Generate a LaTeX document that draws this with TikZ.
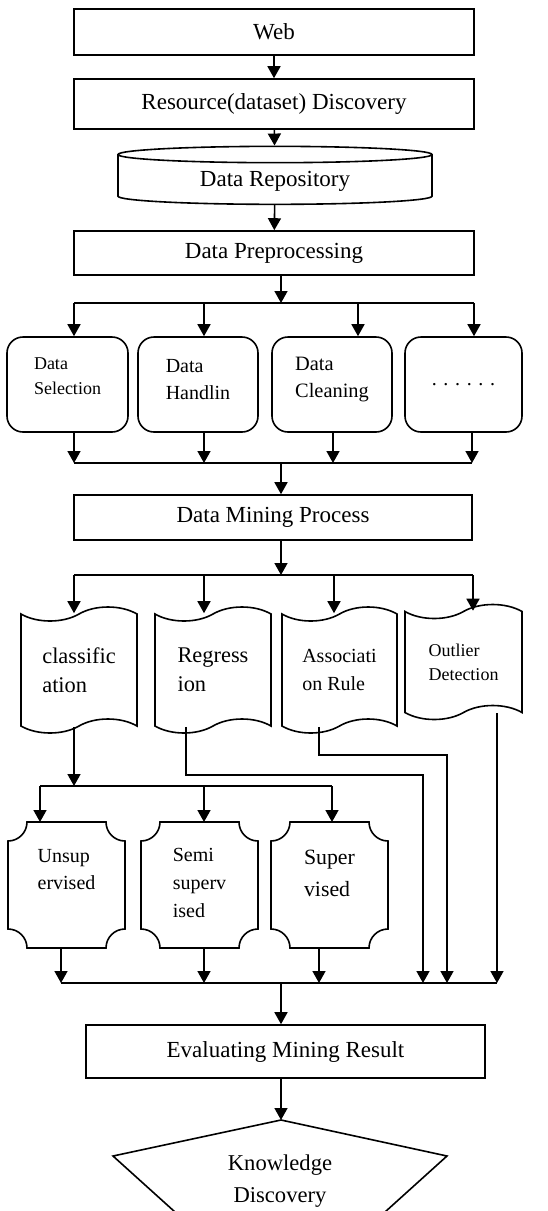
\documentclass[tikz,border=0pt]{standalone}
\usepackage{fontspec}
\setmainfont{Liberation Serif}
\usetikzlibrary{shapes.geometric,shapes.symbols,arrows.meta,calc}

\tikzset{
  block/.style={shape=rectangle, draw},
  roundbox/.style={shape=rectangle, rounded corners=8pt, draw, minimum height=47.5pt, align=left},
  wavebox/.style={shape=tape, draw, tape bend height=7pt, minimum height=63pt, align=left},
  notchbox/.style={shape=rectangle, minimum width=58.5pt, minimum height=63pt, align=left, outer sep=0pt},
}

\begin{document}
\begin{tikzpicture}[x=0.5pt,y=0.5pt,line width=0.8pt,>={Triangle[width=6.5pt,length=6pt]},
  font=\fontsize{11.5}{14}\selectfont]
\useasboundingbox (0,0) rectangle (547,-1211);

% source chain
\path (274,-32) node (web) [block, minimum width=200pt, minimum height=23pt] {Web};
\path (274,-104) node (res) [block, minimum width=200pt, minimum height=25pt] {Resource(dataset) Discovery};
\path (275,-181) node (repo) [shape=cylinder, shape border rotate=90, aspect=0.1, draw, minimum width=157pt, minimum height=29pt] {Data Repository};
\path (274,-253) node (pre) [block, minimum width=200pt, minimum height=22pt] {Data Preprocessing};

\draw [->] (web) to (res);
\draw [->] (res) to (repo);
\draw [->] (repo) to (pre);

% preprocessing steps
\coordinate (split1) at (281,-303);
\coordinate (a1) at (74,-303);
\coordinate (a2) at (204,-303);
\coordinate (a3) at (358,-303);
\coordinate (a4) at (474,-303);
\path (67.5,-384.5) node (sel) [roundbox, minimum width=60.5pt, text depth=8pt, font=\fontsize{9}{12.5}\selectfont] {Data\\Selection};
\path (198,-384.5) node (hand) [roundbox, minimum width=60pt, text depth=5pt, font=\fontsize{10}{13.5}\selectfont] {Data\\Handlin};
\path (332,-384.5) node (clean) [roundbox, minimum width=60pt, text depth=7pt, font=\fontsize{10.2}{13.5}\selectfont] {Data\\Cleaning};
\path (463.5,-384.5) node (dots) [roundbox, minimum width=58.5pt, font=\fontsize{10}{12}\selectfont] {. . . . . .};

\draw [->] (pre.south -| split1) -- (split1);
\draw (a1) -- (a4);
\draw [->] (a1) -- (a1 |- sel.north);
\draw [->] (a2) -- (a2 |- hand.north);
\draw [->] (a3) -- (a3 |- clean.north);
\draw [->] (a4) -- (a4 |- dots.north);

\coordinate (merge1) at (281,-463);
\coordinate (b1) at (74,-463);
\coordinate (b2) at (204,-463);
\coordinate (b3) at (333,-463);
\coordinate (b4) at (472,-463);
\draw [->] (b1 |- sel.south) -- (b1);
\draw [->] (b2 |- hand.south) -- (b2);
\draw [->] (b3 |- clean.south) -- (b3);
\draw [->] (b4 |- dots.south) -- (b4);
\draw (b1) -- (b4);

\path (273,-517.5) node (mine) [block, minimum width=199pt, minimum height=22.5pt] {Data Mining Process};
\draw [->] (merge1) -- (merge1 |- mine.north);

% mining tasks
\coordinate (split2) at (281,-575);
\coordinate (c1) at (74,-575);
\coordinate (c2) at (204,-575);
\coordinate (c3) at (334,-575);
\coordinate (c4) at (473,-575);
\path (79,-670) node (cls) [wavebox, minimum width=58pt, font=\fontsize{11.2}{14.5}\selectfont] {classific\\ation};
\path (213,-670) node (reg) [wavebox, minimum width=58pt, font=\fontsize{11.2}{14.5}\selectfont] {Regress\\ion};
\path (339.5,-670) node (assoc) [wavebox, minimum width=57.5pt, font=\fontsize{10}{14}\selectfont] {Associati\\on Rule};
\path (463.5,-662) node (outl) [wavebox, minimum width=58.5pt, minimum height=57.5pt, font=\fontsize{9}{12}\selectfont] {Outlier\\Detection};

\draw [->] (mine.south -| split2) -- (split2);
\draw (c1) -- (c4);
\draw [->] (c1) -- (c1 |- cls.north);
\draw [->] (c2) -- (c2 |- reg.north);
\draw [->] (c3) -- (c3 |- assoc.north);
\draw [->] (c4) -- (c4 |- outl.north);

% learning types
\coordinate (split3) at (74,-786);
\coordinate (d1) at (40,-786);
\coordinate (d2) at (204,-786);
\coordinate (d3) at (332,-786);
\path (66.5,-885) node (unsup) [notchbox, text depth=16pt, font=\fontsize{10}{13.5}\selectfont] {Unsup\\ervised};
\path (199.5,-885) node (semi) [notchbox, text depth=2.5pt, font=\fontsize{10}{14}\selectfont] {Semi\\superv\\ised};
\path (329.5,-885) node (sup) [notchbox, text depth=12pt, font=\fontsize{10.9}{16}\selectfont] {Super\\vised};
\foreach \n in {unsup,semi,sup}
  \draw ([xshift=9.5pt]\n.north west) -- ([xshift=-9.5pt]\n.north east)
    arc[start angle=180,end angle=270,radius=9.5pt] -- ([yshift=9.5pt]\n.south east)
    arc[start angle=90,end angle=180,radius=9.5pt] -- ([xshift=9.5pt]\n.south west)
    arc[start angle=0,end angle=90,radius=9.5pt] -- ([yshift=-9.5pt]\n.north west)
    arc[start angle=270,end angle=360,radius=9.5pt] -- cycle;

\draw [->] (split3 |- cls.south) -- (split3);
\draw (d1) -- (d3);
\draw [->] (d1) -- (d1 |- unsup.north);
\draw [->] (d2) -- (d2 |- semi.north);
\draw [->] (d3) -- (d3 |- sup.north);

% everything joins again
\coordinate (merge2) at (281,-983);
\coordinate (e1) at (61,-983);
\coordinate (e2) at (204,-983);
\coordinate (e3) at (319,-983);
\coordinate (e4) at (423,-983);
\coordinate (e5) at (447,-983);
\coordinate (e6) at (497,-983);
\coordinate (bend2) at (186,-775);
\coordinate (bend3) at (319,-755);
\draw [->] (e1 |- unsup.south) -- (e1);
\draw [->] (e2 |- semi.south) -- (e2);
\draw [->] (e3 |- sup.south) -- (e3);
\draw [->] (bend2 |- reg.south) -- (bend2) -| (e4);
\draw [->] (bend3 |- assoc.south) -- (bend3) -| (e5);
\draw [->] (e6 |- outl.south) -- (e6);
\draw (e1) -- (e6);

\path (285.5,-1051.5) node (eval) [block, minimum width=199.5pt, minimum height=26.5pt] {Evaluating Mining Result};
\draw [->] (merge2) -- (merge2 |- eval.north);

\coordinate (apex) at (281,-1120);
\draw [->] (eval.south -| apex) -- (apex);
\draw (apex) -- (113,-1156) -- (206,-1240) -- (354,-1240) -- (447,-1156) -- cycle;
\path (280,-1181) node (know) [align=center, font=\fontsize{11.3}{16}\selectfont] {Knowledge\\Discovery};
\end{tikzpicture}
\end{document}
